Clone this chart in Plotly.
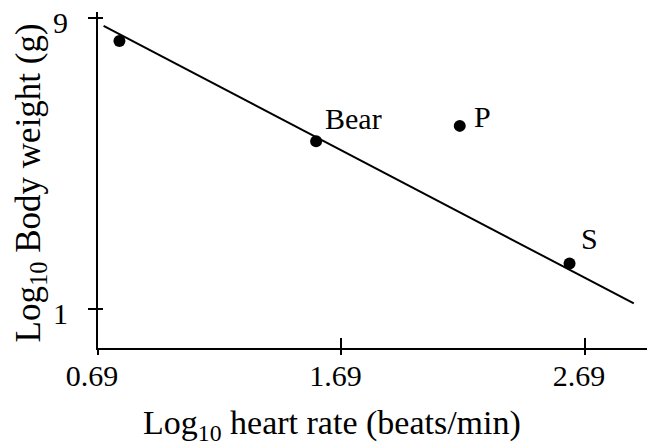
import plotly.graph_objects as go

# Data
heart_rate = [0.778, 1.586, 2.176, 2.627]
body_weight = [8.37, 5.62, 6.04, 2.26]
point_labels = ["", "Bear", "P", "S"]
label_shift_x = [0, 7, 12, 9]
label_shift_y = [0, 23, 9, 25]

fit_x = [0.713, 2.891]
fit_y = [8.79, 1.16]

x_ticks = [0.69, 1.69, 2.69]
x_tick_text = ["0.69", "1.69", "2.69"]
y_ticks = [1, 9]
y_tick_text = ["1", "9"]

x_range = [0.69, 2.978]
y_range = [-0.065, 9.17]

FONT = "Liberation Serif"

fig = go.Figure()
fig.add_trace(go.Scatter(x=fit_x, y=fit_y, mode="lines",
                         line=dict(color="black", width=2), showlegend=False))
fig.add_trace(go.Scatter(x=heart_rate, y=body_weight, mode="markers",
                         marker=dict(color="black", size=12), showlegend=False))
# dummy trace for overlay axes (inside tick halves)
fig.add_trace(go.Scatter(x=[x_range[0]], y=[y_range[0]], xaxis="x2", yaxis="y2", mode="markers",
                         marker=dict(size=1, opacity=0), showlegend=False, hoverinfo="skip"))

for xv, yv, t, sx, sy in zip(heart_rate, body_weight, point_labels, label_shift_x, label_shift_y):
    if t:
        fig.add_annotation(x=xv, y=yv, text=t, showarrow=False, xanchor="left",
                           yanchor="middle", xshift=sx, yshift=sy,
                           font=dict(family=FONT, size=30, color="black"))

fig.add_annotation(xref="paper", yref="paper", x=0.42, y=-0.23, text="Log<sub>10</sub> heart rate (beats/min)",
                   showarrow=False, xanchor="center", yanchor="middle",
                   font=dict(family=FONT, size=34, color="black"))
fig.add_annotation(xref="paper", yref="paper", x=-0.122, y=0.49, text="Log<sub>10</sub> Body weight (g)",
                   showarrow=False, textangle=-90, xanchor="center", yanchor="middle",
                   font=dict(family=FONT, size=35, color="black"))

axis_common = dict(showgrid=False, zeroline=False, tickcolor="black", tickwidth=2,
                   automargin=False)

fig.update_layout(
    width=647, height=436,
    margin=dict(l=90, r=0, t=4, b=96, autoexpand=False),
    plot_bgcolor="white", paper_bgcolor="white",
    font=dict(family=FONT, size=30, color="black"),
    xaxis=dict(range=x_range, tickvals=x_ticks, ticktext=x_tick_text,
               ticks="outside", ticklen=5, showline=True, linecolor="black", linewidth=2,
               ticklabelstandoff=-5, ticklabelshift=-6, ticklabeloverflow="allow",
               tickfont=dict(family=FONT, size=30), **axis_common),
    yaxis=dict(range=y_range, tickvals=y_ticks, ticktext=y_tick_text,
               ticks="outside", ticklen=8, showline=True, linecolor="black", linewidth=2,
               ticklabelstandoff=14, ticklabelshift=4, ticklabeloverflow="allow",
               tickfont=dict(family=FONT, size=30), **axis_common),
    xaxis2=dict(range=x_range, tickvals=x_ticks, showticklabels=False, overlaying="x",
                ticks="inside", ticklen=10, showline=False, **axis_common),
    yaxis2=dict(range=y_range, tickvals=y_ticks, showticklabels=False, overlaying="y",
                ticks="inside", ticklen=5, showline=False, **axis_common),
)

fig.write_html("out.html")
